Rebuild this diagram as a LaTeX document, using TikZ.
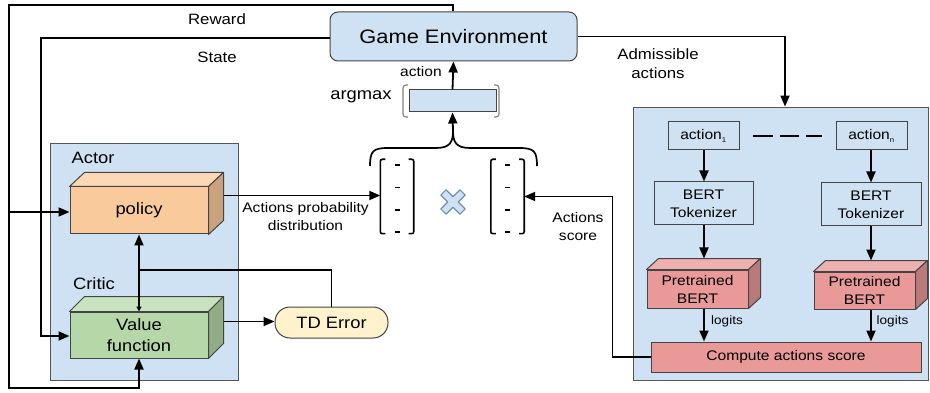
\documentclass[tikz,border=0pt]{standalone}
\usepackage{fontspec}
\setmainfont[FakeStretch=1.12]{Liberation Sans}
\usetikzlibrary{arrows.meta,calc}
\definecolor{bluebg}{HTML}{CFE2F3}
\definecolor{edgegray}{HTML}{555555}
\definecolor{polF}{HTML}{F9CB9C}
\definecolor{polT}{HTML}{FBD9B6}
\definecolor{polS}{HTML}{C9A27E}
\definecolor{valF}{HTML}{B6D7A8}
\definecolor{valT}{HTML}{C9E3BF}
\definecolor{valS}{HTML}{92AC87}
\definecolor{redF}{HTML}{EA9999}
\definecolor{redT}{HTML}{EFB0B0}
\definecolor{redS}{HTML}{BB7A7A}
\definecolor{tdF}{HTML}{FFF2CC}
\definecolor{xline}{HTML}{6F8FB0}
\definecolor{pargray}{HTML}{7F7F7F}
\newcommand\mycube[5]{%
 \draw[cubeline,fill=#4] (#1.north west) -- ++(#2,-#3) -- ($(#1.north east)+(#2,-#3)$) -- (#1.north east) -- cycle;
 \draw[cubeline,fill=#5] (#1.north east) -- ++(#2,-#3) -- ($(#1.south east)+(#2,-#3)$) -- (#1.south east) -- cycle;}
\begin{document}
\begin{tikzpicture}[x=1pt,y=-1pt,
  fbig/.style={font=\fontsize{19.5}{22}\selectfont},
  fmid/.style={font=\fontsize{16.4}{21}\selectfont},
  fsm/.style={font=\fontsize{15}{19}\selectfont},
  fxs/.style={font=\fontsize{13.9}{18}\selectfont},
  ftiny/.style={font=\fontsize{12.1}{14}\selectfont},
  panel/.style={draw=edgegray,line width=0.9pt,fill=bluebg,inner sep=0pt},
  plainbox/.style={draw=edgegray!80!black,line width=1pt,inner sep=0pt,align=center},
  cubeline/.style={draw=edgegray!80!black,line width=1pt,line join=round},
  arr/.style={line width=1.8pt,-{Triangle[length=11pt,width=9pt]}},
  smallarr/.style={line width=1.8pt,-{Triangle[length=5pt,width=5pt]}},
  lbl/.style={inner sep=0pt,align=center}
]
\useasboundingbox (0,0) rectangle (930,393);

% panels
\node[panel,minimum width=188pt,minimum height=237pt] (lbox) at (144,261.5) {};
\node[panel,minimum width=295pt,minimum height=273pt] (rbox) at (780.5,243.5) {};

% game environment
\node[plainbox,fill=bluebg,rounded corners=8pt,minimum width=247pt,minimum height=49pt,fbig] (game) at (453.5,36.5) {Game Environment};

% labels
\node[lbl,fsm] (reward) at (217,19) {Reward};
\node[lbl,fsm] (state) at (217,57) {State};
\node[lbl,fsm] (admis) at (658,64) {Admissible\\actions};
\node[lbl,fmid] (actor) at (93,158) {Actor};
\node[lbl,fmid] (critic) at (94,284) {Critic};
\node[lbl,fxs] (actlbl) at (421,72) {action};
\node[lbl,fmid] (argl) at (361,97) {argmax};
\node[lbl,fxs] (probl) at (305.5,217) {Actions probability\\distribution};
\node[lbl,fxs] (scorel) at (578,227) {Actions\\score};

% cuboids
\node[cubeline,fill=polF,minimum width=138pt,minimum height=47pt,inner sep=0pt,fmid] (policy) at (139,210.5) {policy};
\mycube{policy}{15}{14}{polT}{polS}
\node[cubeline,fill=valF,minimum width=138pt,minimum height=46pt,inner sep=0pt,fmid,align=center] (value) at (139,335) {Value\\function};
\mycube{value}{15}{15}{valT}{valS}
\node[cubeline,fill=redF,minimum width=101pt,minimum height=38pt,inner sep=0pt,fxs,align=center] (bert1) at (697.5,289) {Pretrained\\BERT};
\mycube{bert1}{12}{11}{redT}{redS}
\node[cubeline,fill=redF,minimum width=101pt,minimum height=37pt,inner sep=0pt,fxs,align=center] (bert2) at (864.5,290.5) {Pretrained\\BERT};
\mycube{bert2}{12}{11}{redT}{redS}

% TD error
\node[plainbox,fill=tdF,rounded corners=15pt,minimum width=113pt,minimum height=31pt,fmid] (td) at (331.5,322.5) {TD Error};

% right panel boxes
\node[plainbox,fill=bluebg,minimum width=71pt,minimum height=28pt,fxs] (a1) at (703.5,136) {action\textsubscript{\fontsize{7}{8}\selectfont 1}};
\node[plainbox,fill=bluebg,minimum width=71pt,minimum height=28pt,fxs] (an) at (871.5,136) {action\textsubscript{\fontsize{7}{8}\selectfont n}};
\node[plainbox,fill=bluebg,minimum width=99pt,minimum height=43pt,fxs] (tok1) at (703.5,203.5) {BERT\\Tokenizer};
\node[plainbox,fill=bluebg,minimum width=100pt,minimum height=43pt,fxs] (tok2) at (871,204.5) {BERT\\Tokenizer};
\node[plainbox,fill=redF,minimum width=270pt,minimum height=30pt,fxs] (comp) at (786,357) {Compute actions score};
\node[lbl,ftiny] (log1) at (727,321) {logits};
\node[lbl,ftiny] (log2) at (892.5,321) {logits};

% argmax box and parentheses
\node[plainbox,fill=bluebg,minimum width=87pt,minimum height=22pt] (amax) at (452.5,101) {};
\draw[pargray,line width=1.1pt,rounded corners=3pt] (408,85) -- (403,85) -- (403,117) -- (408,117);
\draw[pargray,line width=1.1pt,rounded corners=3pt] (494,85) -- (499,85) -- (499,117) -- (494,117);

% matrices
\node[minimum width=33pt,minimum height=74pt,inner sep=0pt] (m1) at (397,196.5) {};
\node[minimum width=33pt,minimum height=74pt,inner sep=0pt] (m2) at (507.5,196.5) {};
\foreach \m in {m1,m2}{
  \draw[line width=1.6pt,rounded corners=2pt] ($(\m.north west)+(5,0)$) -- (\m.north west) -- (\m.south west) -- ++(5,0);
  \draw[line width=1.6pt,rounded corners=2pt] ($(\m.north east)+(-5,0)$) -- (\m.north east) -- (\m.south east) -- ++(-5,0);
  \foreach \yy in {5.5,28,50.5,72.5}
    \draw[line width=1.5pt] ($(\m.north)+(-2.5,\yy)$) -- ++(5,0);
}
% times symbol
\coordinate (times) at (453,202);
\begin{scope}[shift={(times)},rotate=45]
  \draw[xline,fill=bluebg,line width=1.1pt,line join=round]
    (3.7,13.5) -- (3.7,3.7) -- (13.5,3.7) -- (13.5,-3.7) -- (3.7,-3.7) -- (3.7,-13.5) --
    (-3.7,-13.5) -- (-3.7,-3.7) -- (-13.5,-3.7) -- (-13.5,3.7) -- (-3.7,3.7) -- (-3.7,13.5) -- cycle;
\end{scope}

% brace
\coordinate (btip) at (453,131);
\draw[line width=1.7pt] (370,166) .. controls (370,151) and (373,148) .. (388,148) -- (436,148) .. controls (450,148) and (453,142) .. (btip);
\draw[line width=1.7pt] (537,166) .. controls (537,151) and (534,148) .. (519,148) -- (470,148) .. controls (456,148) and (453,142) .. (btip);

% connectors
\draw[arr] (btip) -- (amax.south);
\draw[arr] (amax.north) -- (game.south);
% reward loop
\coordinate (rwTop) at (453,5);
\coordinate (rwBL) at (9,388);
\coordinate (rwBranch) at (9,212);
\draw[arr] (game.north -| rwTop) -- (rwTop) -| (rwBL) -| (value.south);
\draw[arr] (rwBranch) -- (rwBranch -| policy.west);
% state loop
\coordinate (stL) at (41,38);
\draw[arr] (game.west |- stL) -- (stL) |- (value.west |- 0,336);
% admissible
\coordinate (admX) at (785,0);
\draw[arr] (game.east) -| (admX |- rbox.north);
% policy -> matrix
\coordinate (polOut) at ($(policy.north east)+(15,9)$);
\draw[arr] (polOut) -- (polOut -| m1.west);
% value -> TD
\coordinate (valOut) at ($(value.north east)+(15,10)$);
\draw[arr] (valOut) -- (valOut -| td.west);
% TD feedback
\coordinate (tdJ) at (139,270);
\draw[arr] (td.north) |- (tdJ) -- (policy.south);
\draw[smallarr] (tdJ) -- (value.north);
% right panel flow
\coordinate (c1) at (704,0);
\coordinate (c2) at (871,0);
\draw[arr] (a1.south -| c1) -- (tok1.north -| c1);
\draw[arr] (an.south -| c2) -- (tok2.north -| c2);
\draw[arr] (tok1.south -| c1) -- ($(bert1.north -| c1)+(0,-11)$);
\draw[arr] (tok2.south -| c2) -- ($(bert2.north -| c2)+(0,-11)$);
\draw[arr] (bert1.south -| c1) -- (comp.north -| c1);
\draw[arr] (bert2.south -| c2) -- (comp.north -| c2);
\coordinate (dlA) at (753,136);
\coordinate (dlB) at (822,136);
\draw[line width=2.2pt,dash pattern=on 19.5pt off 7pt] (dlA) -- (dlB);
\draw[arr] (comp.west) -- ++(-38,0) |- (m2.east);
\end{tikzpicture}
\end{document}
